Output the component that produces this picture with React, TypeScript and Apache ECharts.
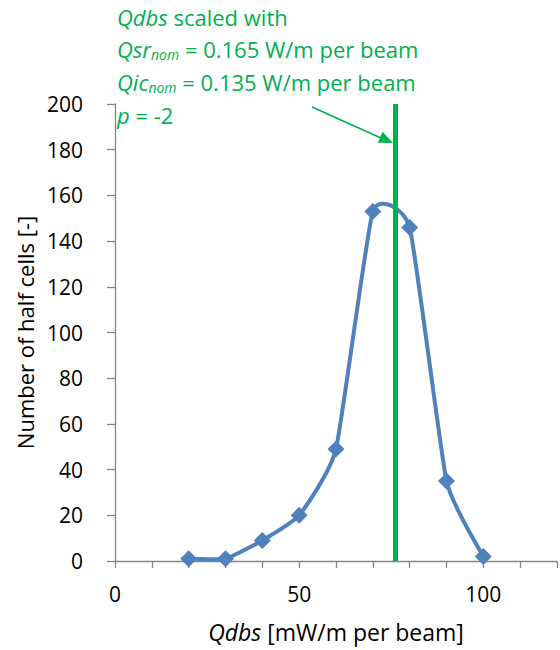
import React, { useEffect, useRef } from "react";
import * as echarts from "echarts";

const xValues = [20, 30, 40, 50, 60, 70, 80, 90, 100];
const yValues = [1, 1, 9, 20, 49, 153, 146, 35, 2];
const markerX = 76;
const annotationLines = [
  "{i|Qdbs}{n| scaled with}",
  "{i|Qsr}{s|nom}{n| = 0.165 W/m per beam}",
  "{i|Qic}{s|nom}{n| = 0.135 W/m per beam}",
  "{i|p}{n| = -2}",
];
const xAxisName = "{i|Qdbs}{n| [mW/m per beam]}";
const yAxisName = "Number of half cells [-]";

const FONT = "'Open Sans', Lato, sans-serif";
const GREEN = "#00B050";
const BLUE = "#4F81BD";
const TENSION = 0.075;

export default function App() {
  const ref = useRef<HTMLDivElement>(null);
  useEffect(() => {
    document.body.style.margin = "0";
    const chart = echarts.init(ref.current!, null, { renderer: "svg" });
    const rich = {
      i: { fontStyle: "italic", fontSize: 22, fontFamily: FONT, color: GREEN },
      n: { fontSize: 22, fontFamily: FONT, color: GREEN },
      s: { fontStyle: "italic", fontSize: 14, fontFamily: FONT, color: GREEN, padding: [11, 0, 0, 0] },
    };
    const lineYs = [21, 53, 86, 119];
    const pts = xValues.map((x, i) => [x, yValues[i]]);
    chart.setOption({
      animation: false,
      grid: { left: 115, right: 1, top: 104, bottom: 89 },
      xAxis: {
        type: "value",
        min: 0,
        max: 120,
        interval: 10,
        name: xAxisName,
        nameLocation: "middle",
        nameGap: 59,
        nameTextStyle: {
          rich: {
            i: { fontStyle: "italic", fontSize: 23, fontFamily: FONT, color: "#000" },
            n: { fontSize: 23, fontFamily: FONT, color: "#000" },
          },
        },
        axisLine: { lineStyle: { color: "#868686", width: 1.3 } },
        axisTick: { show: true, length: 7, lineStyle: { color: "#868686", width: 1.3 } },
        axisLabel: {
          margin: 22,
          fontSize: 21,
          fontFamily: FONT,
          color: "#000",
          formatter: (v: number) => (v % 50 === 0 ? String(v) : ""),
        },
        splitLine: { show: false },
      },
      yAxis: {
        type: "value",
        min: 0,
        max: 200,
        interval: 20,
        name: yAxisName,
        nameLocation: "middle",
        nameGap: 75,
        nameTextStyle: { fontSize: 22, fontFamily: FONT, color: "#000" },
        axisLine: { show: true, lineStyle: { color: "#868686", width: 1.3 } },
        axisTick: { show: true, length: 8, lineStyle: { color: "#868686", width: 1.3 } },
        axisLabel: { margin: 32, fontSize: 21, fontFamily: FONT, color: "#000" },
        splitLine: { show: false },
      },
      series: [
        {
          type: "custom",
          data: pts,
          encode: { x: 0, y: 1 },
          z: 3,
          renderItem: (params: any, api: any) => {
            if (params.dataIndex !== 0) return null;
            const c = pts.map((p) => api.coord(p));
            const n = c.length;
            let d = `M${c[0][0]},${c[0][1]}`;
            for (let i = 0; i < n - 1; i++) {
              const p0 = c[Math.max(i - 1, 0)];
              const p1 = c[i];
              const p2 = c[i + 1];
              const p3 = c[Math.min(i + 2, n - 1)];
              const c1x = p1[0] + (p2[0] - p0[0]) * TENSION;
              const c1y = p1[1] + (p2[1] - p0[1]) * TENSION;
              const c2x = p2[0] - (p3[0] - p1[0]) * TENSION;
              const c2y = p2[1] - (p3[1] - p1[1]) * TENSION;
              d += ` C${c1x},${c1y} ${c2x},${c2y} ${p2[0]},${p2[1]}`;
            }
            return {
              type: "path",
              shape: { pathData: d },
              style: { stroke: BLUE, lineWidth: 4, fill: "none", lineJoin: "round" },
            };
          },
        },
        {
          type: "scatter",
          data: pts,
          symbol: "diamond",
          symbolSize: 17,
          itemStyle: { color: BLUE, opacity: 1 },
          z: 4,
          markLine: {
            silent: true,
            symbol: "none",
            label: { show: false },
            lineStyle: { color: GREEN, width: 5, type: "solid" },
            data: [{ xAxis: markerX }],
            z: 5,
          },
        },
      ],
      graphic: [
        ...annotationLines.map((t, k) => ({
          type: "text",
          left: 117,
          top: lineYs[k] - 15,
          style: { text: t, rich, fill: GREEN },
        })),
        {
          type: "line",
          shape: { x1: 312, y1: 107, x2: 381, y2: 138 },
          style: { stroke: GREEN, lineWidth: 1.5 },
        },
        {
          type: "polygon",
          shape: { points: [[393, 143], [377.8, 142.8], [382.6, 131.8]] },
          style: { fill: GREEN },
        },
      ],
    });
    return () => chart.dispose();
  }, []);
  return <div ref={ref} style={{ width: 560, height: 650 }} />;
}
